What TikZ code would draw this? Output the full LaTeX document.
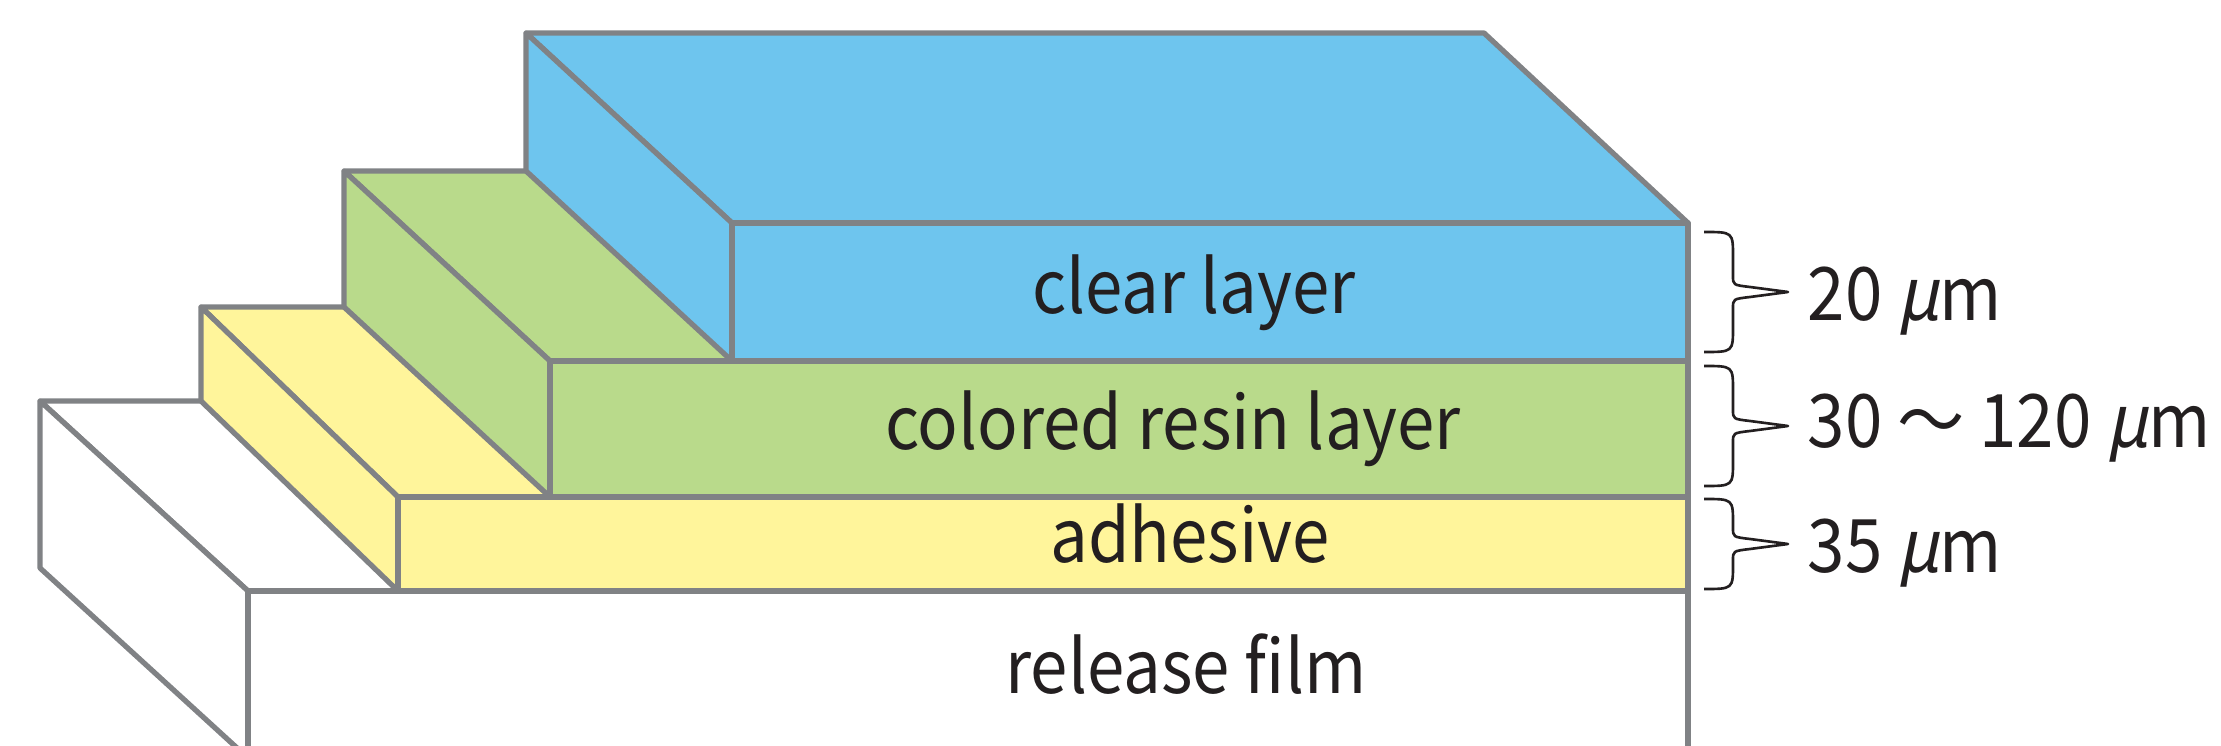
\documentclass[tikz,border=0pt]{standalone}
\usepackage{fontspec}
\setmainfont{Noto Sans CJK JP}[FakeStretch=0.91]
\newfontfamily\slfont[FakeSlant=0.2, FakeStretch=0.91]{Noto Sans CJK JP}
\definecolor{edgegray}{HTML}{808285}
\definecolor{clearblue}{HTML}{6EC5EE}
\definecolor{resingreen}{HTML}{B9DA8B}
\definecolor{glueyellow}{HTML}{FFF59B}
\definecolor{inkblack}{HTML}{231F20}
\tikzset{
  layer/.style={draw=edgegray, line width=1.5pt, line join=round},
  tag/.style={text=inkblack, font=\fontsize{21}{25}\selectfont, inner sep=0pt},
  brace/.style={draw=inkblack, line width=0.75pt, line join=round}
}
% slab: depth x, front left x, front top y, front bottom y, fill
\newcommand{\slab}[5][206]{%
  \filldraw[layer, fill=#5] (#2-#1,#3-190) -- (1484,#3-190) -- (1688,#3) -- (#2,#3) -- cycle;
  \filldraw[layer, fill=#5] (#2-#1,#3-190) -- (#2,#3) -- (#2,#4) -- (#2-#1,#4-190) -- cycle;
  \filldraw[layer, fill=#5] (#2,#3) rectangle (1688,#4);
}
% thickness brace: top y, bottom y, tip y
\newcommand{\thick}[3]{%
  \draw[brace] (1704,#1) .. controls (1733,#1) .. (1733,#1+25) -- (1733,#3-16)
    .. controls (1733,#3-7) .. (1750,#3-5) -- (1788,#3) -- (1750,#3+5)
    .. controls (1733,#3+7) .. (1733,#3+16) -- (1733,#2-25) .. controls (1733,#2) .. (1704,#2);
}
\begin{document}
\begin{tikzpicture}[x=0.01cm, y=-0.01cm]
  \useasboundingbox (0,0) rectangle (2221,746);
  \begin{scope}
    \clip (0,0) rectangle (2221,746);
    \slab[208]{248}{591}{758}{white}
    \slab[197]{398}{497}{591}{glueyellow}
    \slab{550}{361}{497}{resingreen}
    \slab{732}{223}{361}{clearblue}
  \end{scope}

  \node[tag, anchor=base] (clear) at (1194,314) {clear layer};
  \node[tag, anchor=base] (resin) at (1173,449) {colored resin layer};
  \node[tag, anchor=base] (glue) at (1190,562) {adhesive};
  \node[tag, anchor=base] (film) at (1186,693) {release film};

  \thick{232}{352}{292}
  \thick{366}{486}{426}
  \thick{499}{589}{544}

  \node[tag, anchor=base west] (t20) at (1807,321) {20 {\slfont µ}m};
  \node[tag, anchor=base west] (t30) at (1807,448) {30 〜 120 {\slfont µ}m};
  \node[tag, anchor=base west] (t35) at (1807,572) {35 {\slfont µ}m};
\end{tikzpicture}
\end{document}
